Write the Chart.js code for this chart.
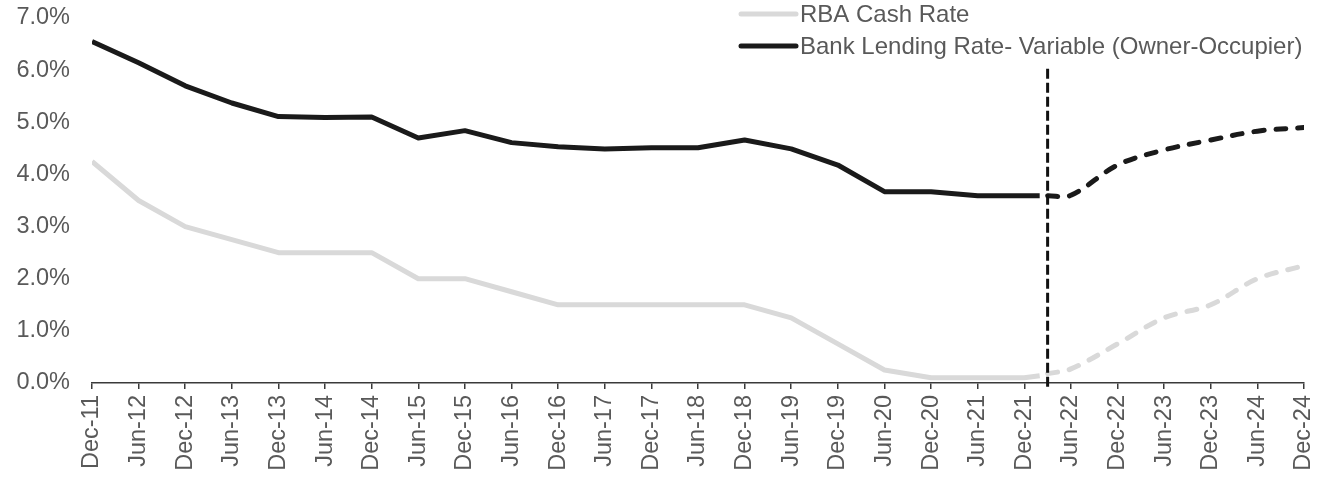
<!DOCTYPE html>
<html>
<head>
<meta charset="utf-8">
<script src="https://cdn.jsdelivr.net/npm/chart.js@4.4.1/dist/chart.umd.min.js"></script>
<style>
html,body{margin:0;padding:0;background:#ffffff;}
#wrap{width:1324px;height:478px;position:relative;}
</style>
</head>
<body>
<div id="wrap"><canvas id="c"></canvas></div>
<script>
// ---- data ----
const tickLabels = ['Dec-11','Jun-12','Dec-12','Jun-13','Dec-13','Jun-14','Dec-14','Jun-15','Dec-15','Jun-16','Dec-16','Jun-17','Dec-17','Jun-18','Dec-18','Jun-19','Dec-19','Jun-20','Dec-20','Jun-21','Dec-21','Jun-22','Dec-22','Jun-23','Dec-23','Jun-24','Dec-24'];
// positions in half-year steps from Dec-11 (last actual = Feb-22, forecast starts Mar-22)
const actualPeriods = [0,1,2,3,4,5,6,7,8,9,10,11,12,13,14,15,16,17,18,19,20,20.33];
const forecastPeriods = [20.5,21,22,23,24,25,26];
const cashRateActual = [4.25,3.50,3.00,2.75,2.50,2.50,2.50,2.00,2.00,1.75,1.50,1.50,1.50,1.50,1.50,1.25,0.75,0.25,0.10,0.10,0.10,0.14];
const cashRateForecast = [0.18,0.27,0.75,1.25,1.50,2.00,2.25];
const lendingRateActual = [6.55,6.14,5.70,5.37,5.11,5.09,5.10,4.70,4.84,4.61,4.53,4.49,4.51,4.51,4.66,4.49,4.18,3.67,3.67,3.59,3.59,3.59];
const lendingRateForecast = [3.59,3.60,4.18,4.47,4.66,4.83,4.90];
const seriesNames = ['RBA Cash Rate','Bank Lending Rate- Variable (Owner-Occupier)'];
const forecastMarkerPeriods = [20.5,20.5];
const forecastMarkerValues = [-0.07,6.1];
const yTickValues = [0,1,2,3,4,5,6,7];

// ---- styles ----
const GREY = '#D9D9D9';
const BLACK = '#1A1A1A';
const TEXT = '#595959';
const FONT = '"Liberation Sans", Arial, sans-serif';
const AXIS_FSIZE = 23.5;
const LEGEND_FSIZE = 24;

const pts = (xs, ys) => xs.map((x, i) => ({x: x, y: ys[i]}));

const legendPlugin = {
  id: 'stackedLegend',
  afterDraw(chart) {
    const ctx = chart.ctx;
    const colors = [GREY, BLACK];
    ctx.save();
    ctx.font = LEGEND_FSIZE + 'px ' + FONT;
    ctx.textBaseline = 'middle';
    ctx.textAlign = 'left';
    const lineX0 = 741, lineX1 = 796, textX = 800;
    const rows = [14, 46];
    seriesNames.forEach((name, i) => {
      ctx.beginPath();
      ctx.strokeStyle = colors[i];
      ctx.lineWidth = 5;
      ctx.lineCap = 'round';
      ctx.moveTo(lineX0, rows[i]);
      ctx.lineTo(lineX1, rows[i]);
      ctx.stroke();
      ctx.fillStyle = TEXT;
      ctx.fillText(name, textX, rows[i] + 1);
    });
    ctx.restore();
  }
};

new Chart(document.getElementById('c'), {
  type: 'line',
  data: {
    datasets: [
      {
        label: 'forecast marker',
        data: pts(forecastMarkerPeriods, forecastMarkerValues),
        borderColor: '#111111', borderWidth: 3, borderDash: [10, 4],
        pointRadius: 0, clip: false, tension: 0
      },
      {
        label: seriesNames[1] + ' forecast',
        data: pts(forecastPeriods, lendingRateForecast),
        borderColor: BLACK, borderWidth: 5, borderDash: [10, 12], borderCapStyle: 'round',
        pointRadius: 0, tension: 0.35
      },
      {
        label: seriesNames[0] + ' forecast',
        data: pts(forecastPeriods, cashRateForecast),
        borderColor: GREY, borderWidth: 5, borderDash: [10, 12], borderCapStyle: 'round',
        pointRadius: 0, tension: 0.35
      },
      {
        label: seriesNames[1],
        data: pts(actualPeriods, lendingRateActual),
        borderColor: BLACK, borderWidth: 5, borderJoinStyle: 'round', borderCapStyle: 'butt',
        pointRadius: 0, tension: 0
      },
      {
        label: seriesNames[0],
        data: pts(actualPeriods, cashRateActual),
        borderColor: GREY, borderWidth: 5, borderJoinStyle: 'round', borderCapStyle: 'butt',
        pointRadius: 0, tension: 0
      }
    ]
  },
  options: {
    responsive: true,
    maintainAspectRatio: false,
    animation: false,
    events: [],
    layout: { padding: { left: 0, top: 18, right: 20, bottom: 0 } },
    plugins: { legend: { display: false }, tooltip: { enabled: false } },
    scales: {
      x: {
        type: 'linear',
        min: 0, max: 26,
        afterFit: (s) => { s.height = 95; s.paddingLeft = 0; s.paddingRight = 0; },
        afterBuildTicks: (s) => { s.ticks = tickLabels.map((t, i) => ({value: i})); },
        ticks: {
          autoSkip: false, minRotation: 90, maxRotation: 90, padding: 6,
          color: TEXT, font: { family: FONT, size: AXIS_FSIZE },
          callback: (v) => tickLabels[v]
        },
        grid: { display: true, drawOnChartArea: false, drawTicks: true, tickLength: 6, tickColor: '#3A3A3A', lineWidth: 1.5 },
        border: { display: true, color: '#3A3A3A', width: 1.5 }
      },
      y: {
        min: 0, max: 7,
        afterFit: (s) => { s.width = 92; s.paddingTop = 0; s.paddingBottom = 0; },
        afterBuildTicks: (s) => { s.ticks = yTickValues.map(v => ({value: v})); },
        ticks: {
          padding: 22, color: TEXT, font: { family: FONT, size: AXIS_FSIZE },
          callback: (v) => v.toFixed(1) + '%'
        },
        grid: { display: false, drawTicks: false },
        border: { display: false }
      }
    }
  },
  plugins: [legendPlugin]
});
</script>
</body>
</html>
